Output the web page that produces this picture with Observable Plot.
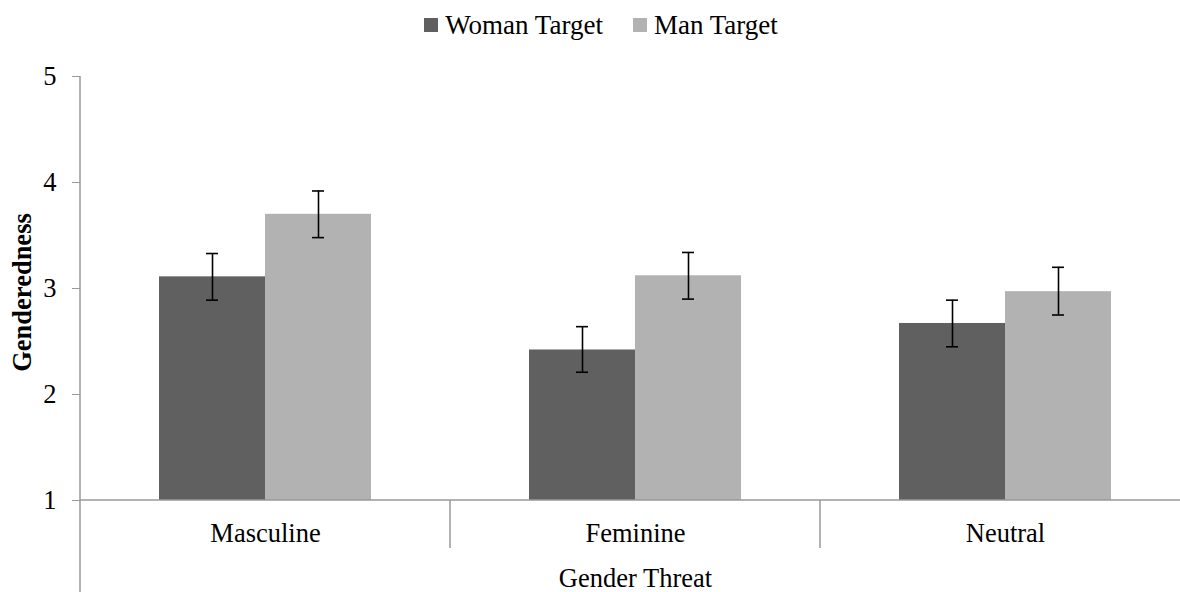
<!DOCTYPE html>
<html>
<head>
<meta charset="utf-8">
<script src="https://cdn.jsdelivr.net/npm/d3@7"></script>
<script src="https://cdn.jsdelivr.net/npm/@observablehq/plot@0.6"></script>
<style>
  html, body { margin: 0; padding: 0; background: #fff; overflow: hidden; }
  body { width: 1180px; height: 592px; font-family: "Liberation Serif", "Times New Roman", serif; }
  #legend { height: 50px; display: flex; justify-content: center; align-items: center; gap: 30px; padding-left: 22px; box-sizing: border-box; font-size: 27px; color: #000; }
  #legend .item { display: flex; align-items: center; gap: 7px; }
  #legend .sw { width: 14px; height: 14px; display: inline-block; }
  #chart svg { display: block; overflow: visible; }
</style>
</head>
<body>
<div id="legend"></div>
<div id="chart"></div>
<script>
const categories = ["Masculine", "Feminine", "Neutral"];
const seriesNames = ["Woman Target", "Man Target"];
const womanMeans = [3.11, 2.42, 2.67];
const womanLow   = [2.89, 2.21, 2.45];
const womanHigh  = [3.33, 2.64, 2.89];
const manMeans   = [3.70, 3.12, 2.97];
const manLow     = [3.48, 2.90, 2.75];
const manHigh    = [3.92, 3.34, 3.20];
const yTicks = [1, 2, 3, 4, 5];
const xTitle = "Gender Threat";
const yTitle = "Genderedness";

const colors = ["#606060", "#b2b2b2"];

const woman = categories.map((c, i) => ({cat: c, v: womanMeans[i], lo: womanLow[i], hi: womanHigh[i]}));
const man = categories.map((c, i) => ({cat: c, v: manMeans[i], lo: manLow[i], hi: manHigh[i]}));

// legend
const legend = d3.select("#legend");
seriesNames.forEach((s, i) => {
  const it = legend.append("div").attr("class", "item");
  it.append("span").attr("class", "sw").style("background", colors[i]);
  it.append("span").text(s);
});

const W = 1180, H = 542;
const font = "Liberation Serif, Times New Roman, serif";
const fs = "26.5px";

const plot = Plot.plot({
  width: W,
  height: H,
  marginTop: 26,
  marginBottom: 92,
  marginLeft: 80,
  marginRight: 0,
  style: {fontFamily: font, fontSize: fs, color: "#000", background: "#fff"},
  x: {type: "band", domain: categories, range: [80, 1190], padding: 0},
  y: {domain: [1, 5], ticks: yTicks},
  marks: [
    Plot.barY(woman, {x: "cat", y1: 1, y2: "v", fill: colors[0], insetLeft: 79, insetRight: 185}),
    Plot.barY(man, {x: "cat", y1: 1, y2: "v", fill: colors[1], insetLeft: 185, insetRight: 79}),
    Plot.ruleX(woman, {x: "cat", y1: "lo", y2: "hi", dx: -53, stroke: "#000", strokeWidth: 1.6}),
    Plot.ruleX(man, {x: "cat", y1: "lo", y2: "hi", dx: 53, stroke: "#000", strokeWidth: 1.6}),
    Plot.tickY(woman, {x: "cat", y: "hi", insetLeft: 126, insetRight: 232, stroke: "#000", strokeWidth: 1.6}),
    Plot.tickY(woman, {x: "cat", y: "lo", insetLeft: 126, insetRight: 232, stroke: "#000", strokeWidth: 1.6}),
    Plot.tickY(man, {x: "cat", y: "hi", insetLeft: 232, insetRight: 126, stroke: "#000", strokeWidth: 1.6}),
    Plot.tickY(man, {x: "cat", y: "lo", insetLeft: 232, insetRight: 126, stroke: "#000", strokeWidth: 1.6}),
    Plot.axisY({ticks: yTicks, tickSize: 8, tickPadding: 16, stroke: "#999", fill: "#000", label: null, tickFormat: d => String(d)}),
    Plot.axisX({tickSize: 0, tickPadding: 23, fill: "#000", label: null}),
    Plot.text([xTitle], {frameAnchor: "bottom", text: d => d, textAnchor: "middle", lineAnchor: "middle", dy: 78, dx: 5, fill: "#000", fontSize: 26.5}),
    Plot.text([yTitle], {frameAnchor: "left", text: d => d, textAnchor: "middle", lineAnchor: "middle", rotate: -90, dx: -58, dy: 4, fill: "#000", fontWeight: "bold", fontSize: 26.5})
  ]
});

document.getElementById("chart").appendChild(plot);

// axis lines drawn from the scales
const xs = plot.scale("x");
const ys = plot.scale("y");
const svg = d3.select(plot);
const y1 = ys.apply(1);
const x0 = xs.range[0], x1 = xs.range[1];
const g = svg.append("g").attr("stroke", "#999").attr("stroke-width", 1.5);
g.append("line").attr("x1", x0).attr("x2", x1).attr("y1", y1).attr("y2", y1);
g.append("line").attr("x1", x0).attr("x2", x0).attr("y1", ys.apply(5)).attr("y2", H);
categories.slice(1).forEach(c => {
  const xx = xs.apply(c);
  g.append("line").attr("x1", xx).attr("x2", xx).attr("y1", y1).attr("y2", y1 + 48);
});
</script>
</body>
</html>
